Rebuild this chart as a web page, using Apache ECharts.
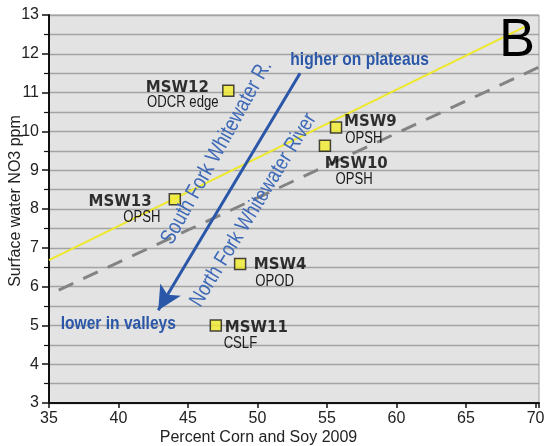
<!DOCTYPE html>
<html><head><meta charset="utf-8">
<script src="https://cdn.jsdelivr.net/npm/echarts@6/dist/echarts.min.js"></script>
<style>html,body{margin:0;padding:0;background:#fff}#c{width:546px;height:446px}</style>
</head><body><div id="c"></div>
<script>
// ---- data ----
const siteNames = ['MSW12', 'MSW13', 'MSW9', 'MSW10', 'MSW4', 'MSW11'];
const siteTypes = ['ODCR edge', 'OPSH', 'OPSH', 'OPSH', 'OPOD', 'CSLF'];
const pctCornSoy = [47.9, 44.05, 55.65, 54.85, 48.75, 47.0];
const no3ppm = [11.05, 8.25, 10.1, 9.63, 6.58, 5.0];
const yellowLineX = [35, 69.25];
const yellowLineY = [6.68, 12.7];
const dashLineX = [35.7, 70.2];
const dashLineY = [5.91, 11.65];
const arrowX = [53.06, 42.86];
const arrowY = [11.5, 5.39];
const xTicks = [35, 40, 45, 50, 55, 60, 65, 70];

// ---- styling (label offsets, px) ----
const nameOffsets = [[-51, -3], [-54.7, 2.7], [34.3, -5], [31.3, 18.3], [40, 1.4], [40.5, 3]];
const typeOffsets = [[-45.5, 12], [-33, 18], [27.8, 11], [29.2, 34.3], [34.5, 17.4], [24.6, 18]];

const SANS = '"Liberation Sans",Arial,sans-serif';
const NARROW_SCALE = 0.82;
const BLUE = '#2b57a8';
const BLUE2 = '#3d69b6';

const chart = echarts.init(document.getElementById('c'), null, {renderer: 'canvas'});

const ptData = siteNames.map((n, i) => ({
  name: n, value: [pctCornSoy[i], no3ppm[i]],
  label: {offset: nameOffsets[i]}
}));

const baseGraphics = [
  {type: 'text', x: 359.6, y: 59.3, z: 10, scaleX: NARROW_SCALE, style: {text: 'higher on plateaus', font: 'bold 19px ' + SANS, fill: BLUE, align: 'center', verticalAlign: 'middle'}},
  {type: 'text', x: 118.3, y: 323.3, z: 10, scaleX: NARROW_SCALE, style: {text: 'lower in valleys', font: 'bold 19px ' + SANS, fill: BLUE, align: 'center', verticalAlign: 'middle'}},
  {type: 'text', x: 216.7, y: 152.4, z: 10, scaleX: NARROW_SCALE, rotation: 61 * Math.PI / 180, style: {text: 'South Fork Whitewater R.', font: '22px ' + SANS, fill: BLUE2, align: 'center', verticalAlign: 'middle'}},
  {type: 'text', x: 253.3, y: 210, z: 10, scaleX: NARROW_SCALE, rotation: 58.5 * Math.PI / 180, style: {text: 'North Fork Whitewater River', font: '21.5px ' + SANS, fill: BLUE2, align: 'center', verticalAlign: 'middle'}},
  {type: 'text', x: 517, y: 41, z: 10, style: {text: 'B', font: '54px ' + SANS, fill: '#000', align: 'center', verticalAlign: 'middle'}}
];

chart.setOption({
  animation: false,
  grid: {left: 49, top: 15, right: 7, bottom: 43, outerBoundsMode: 'none', containLabel: false, show: true, backgroundColor: '#e3e3e3', borderColor: '#9a9a9a', borderWidth: 1},
  xAxis: {
    type: 'value', min: 35, max: 70.25, interval: 5,
    name: 'Percent Corn and Soy 2009', nameLocation: 'middle', nameGap: 27, nameMoveOverlap: false,
    nameTextStyle: {fontFamily: SANS, fontSize: 16, color: '#222', padding: [0, 71, 0, 0]},
    axisLine: {show: true, lineStyle: {color: '#111', width: 2}},
    axisTick: {show: true, length: 5, lineStyle: {color: '#111', width: 1.5}},
    axisLabel: {fontFamily: SANS, fontSize: 16, color: '#222', margin: 8,
      formatter: v => xTicks.indexOf(v) >= 0 ? String(v) : ''},
    splitLine: {show: false}
  },
  yAxis: {
    type: 'value', min: 3, max: 13, interval: 1,
    name: 'Surface water NO3 ppm', nameLocation: 'middle', nameGap: 25, nameMoveOverlap: false,
    nameTextStyle: {fontFamily: SANS, fontSize: 16, color: '#222', padding: [0, 0, 0, 16]},
    axisLine: {show: true, lineStyle: {color: '#111', width: 2}},
    axisTick: {show: true, length: 7, lineStyle: {color: '#111', width: 1.5}},
    minorTick: {show: true, splitNumber: 2, length: 5, lineStyle: {color: '#111', width: 1.2}},
    axisLabel: {fontFamily: SANS, fontSize: 16, color: '#222', margin: 10},
    splitLine: {show: true, lineStyle: {color: '#a3a3a3', width: 1.3}},
    minorSplitLine: {show: true, lineStyle: {color: '#a3a3a3', width: 1.3}}
  },
  series: [
    {
      type: 'line', data: dashLineX.map((x, i) => [x, dashLineY[i]]),
      showSymbol: false, symbol: 'none', z: 2,
      lineStyle: {color: '#838383', width: 3, type: [16, 11]}
    },
    {
      type: 'line', data: yellowLineX.map((x, i) => [x, yellowLineY[i]]),
      showSymbol: false, symbol: 'none', z: 3,
      lineStyle: {color: '#eee82a', width: 2}
    },
    {
      type: 'line', data: [], z: 4,
      markLine: {
        silent: true, symbol: ['none', 'arrow'], symbolSize: [18, 24],
        label: {show: false},
        lineStyle: {color: BLUE, width: 3, type: 'solid'},
        data: [[{coord: [arrowX[0], arrowY[0]]}, {coord: [arrowX[1], arrowY[1]]}]]
      }
    },
    {
      type: 'scatter', data: ptData, z: 6, symbol: 'rect', symbolSize: 11,
      itemStyle: {color: '#f3ec2a', borderColor: '#1a1a1a', borderWidth: 1.5},
      label: {show: true, position: 'inside', formatter: '{b}', fontFamily: '"DejaVu Sans",sans-serif', fontWeight: 'bold', fontSize: 15, color: '#000', align: 'center', verticalAlign: 'middle'}
    }
  ],
  graphic: baseGraphics
});

// site-type sub labels, placed through the chart's own scales
const typeGraphics = siteTypes.map((t, i) => {
  const p = chart.convertToPixel({gridIndex: 0}, [pctCornSoy[i], no3ppm[i]]);
  return {type: 'text', x: p[0] + typeOffsets[i][0], y: p[1] + typeOffsets[i][1], z: 9, scaleX: NARROW_SCALE,
    style: {text: t, font: '16px ' + SANS, fill: '#1a1a1a', align: 'center', verticalAlign: 'middle'}};
});
chart.setOption({graphic: baseGraphics.concat(typeGraphics)});
</script>
</body></html>
